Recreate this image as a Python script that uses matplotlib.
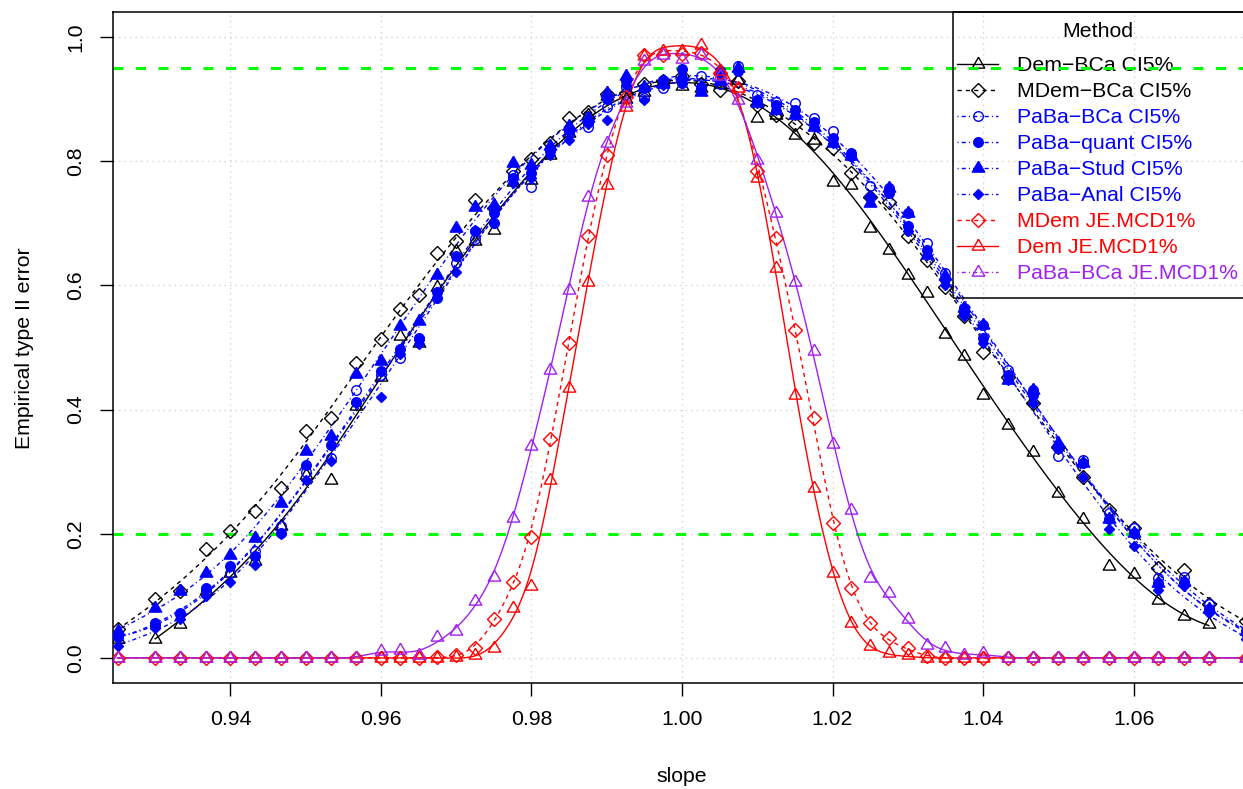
import numpy as np
import matplotlib
matplotlib.use("Agg")
import matplotlib.pyplot as plt
from matplotlib.lines import Line2D
from matplotlib.patches import Rectangle

plt.rcParams['font.family'] = ['Liberation Sans', 'DejaVu Sans']
plt.rcParams['lines.scale_dashes'] = False

# ---------------- data ----------------
slope = [0.925, 0.93, 0.9333, 0.9367, 0.94, 0.9433, 0.9467, 0.95, 0.9533, 0.9567,
         0.96, 0.9625, 0.965, 0.9675, 0.97, 0.9725, 0.975, 0.9775, 0.98, 0.9825,
         0.985, 0.9875, 0.99, 0.9925, 0.995, 0.9975, 1.0, 1.0025, 1.005, 1.0075,
         1.01, 1.0125, 1.015, 1.0175, 1.02, 1.0225, 1.025, 1.0275, 1.03, 1.0325,
         1.035, 1.0375, 1.04, 1.0433, 1.0467, 1.05, 1.0533, 1.0567, 1.06, 1.0633,
         1.0667, 1.07, 1.075]

dem_bca = [0.03, 0.031, 0.054, 0.107, 0.137, 0.156, 0.212, 0.295, 0.287, 0.405,
           0.453, 0.518, 0.508, 0.598, 0.655, 0.672, 0.690, 0.767, 0.770, 0.810,
           0.846, 0.875, 0.905, 0.900, 0.912, 0.928, 0.922, 0.918, 0.925, 0.931,
           0.870, 0.875, 0.843, 0.835, 0.767, 0.762, 0.693, 0.657, 0.617, 0.588,
           0.521, 0.487, 0.424, 0.375, 0.332, 0.266, 0.223, 0.148, 0.135, 0.093,
           0.067, 0.054, 0.0]

mdem_bca = [0.046, 0.095, 0.107, 0.176, 0.204, 0.236, 0.274, 0.365, 0.386, 0.475,
            0.513, 0.562, 0.585, 0.652, 0.671, 0.738, 0.725, 0.785, 0.804, 0.830,
            0.870, 0.880, 0.908, 0.910, 0.925, 0.930, 0.937, 0.925, 0.915, 0.930,
            0.890, 0.875, 0.860, 0.829, 0.821, 0.781, 0.743, 0.735, 0.679, 0.641,
            0.598, 0.550, 0.492, 0.453, 0.411, 0.340, 0.292, 0.239, 0.209, 0.145,
            0.142, 0.086, 0.060]

paba_bca = [0.035, 0.051, 0.070, 0.107, 0.137, 0.172, 0.212, 0.300, 0.322, 0.432,
            0.455, 0.483, 0.515, 0.580, 0.636, 0.674, 0.700, 0.778, 0.759, 0.816,
            0.845, 0.856, 0.888, 0.920, 0.902, 0.918, 0.926, 0.937, 0.925, 0.953,
            0.907, 0.896, 0.894, 0.870, 0.848, 0.808, 0.760, 0.757, 0.717, 0.668,
            0.620, 0.564, 0.537, 0.464, 0.432, 0.325, 0.319, 0.233, 0.209, 0.129,
            0.131, 0.086, 0.043]

paba_quant = [0.033, 0.056, 0.072, 0.113, 0.148, 0.164, 0.201, 0.311, 0.343, 0.413,
              0.462, 0.497, 0.513, 0.590, 0.647, 0.687, 0.717, 0.773, 0.781, 0.820,
              0.851, 0.864, 0.900, 0.930, 0.918, 0.931, 0.948, 0.920, 0.940, 0.945,
              0.899, 0.891, 0.883, 0.864, 0.837, 0.813, 0.743, 0.749, 0.695, 0.657,
              0.610, 0.556, 0.515, 0.456, 0.424, 0.338, 0.314, 0.223, 0.201, 0.121,
              0.123, 0.078, 0.040]

paba_stud = [0.043, 0.080, 0.107, 0.137, 0.166, 0.193, 0.250, 0.333, 0.357, 0.458,
             0.478, 0.534, 0.542, 0.617, 0.692, 0.727, 0.730, 0.797, 0.794, 0.824,
             0.857, 0.870, 0.910, 0.937, 0.920, 0.925, 0.937, 0.912, 0.930, 0.950,
             0.894, 0.883, 0.875, 0.856, 0.829, 0.808, 0.733, 0.757, 0.717, 0.649,
             0.615, 0.564, 0.537, 0.448, 0.432, 0.346, 0.314, 0.223, 0.201, 0.121,
             0.123, 0.078, 0.043]

paba_anal = [0.019, 0.048, 0.062, 0.099, 0.123, 0.150, 0.200, 0.287, 0.317, 0.410,
             0.421, 0.490, 0.505, 0.580, 0.621, 0.690, 0.700, 0.765, 0.773, 0.810,
             0.835, 0.860, 0.867, 0.923, 0.899, 0.923, 0.926, 0.920, 0.948, 0.945,
             0.894, 0.883, 0.875, 0.856, 0.829, 0.808, 0.743, 0.749, 0.687, 0.649,
             0.600, 0.550, 0.507, 0.448, 0.411, 0.338, 0.292, 0.207, 0.180, 0.110,
             0.115, 0.072, 0.030]

mdem_je = [0, 0, 0, 0, 0, 0, 0, 0, 0, 0,
           0, 0, 0, 0.002, 0.005, 0.016, 0.063, 0.122, 0.195, 0.353,
           0.507, 0.679, 0.810, 0.904, 0.971, 0.971, 0.973, 0.974, 0.942, 0.915,
           0.784, 0.676, 0.528, 0.386, 0.218, 0.113, 0.056, 0.032, 0.016, 0.003,
           0, 0, 0, 0, 0, 0, 0, 0, 0, 0,
           0, 0, 0]

dem_je = [0, 0, 0, 0, 0, 0, 0, 0, 0, 0,
          0, 0, 0, 0, 0.002, 0.004, 0.016, 0.080, 0.115, 0.287,
          0.435, 0.606, 0.762, 0.888, 0.970, 0.977, 0.978, 0.988, 0.945, 0.918,
          0.773, 0.628, 0.424, 0.274, 0.137, 0.056, 0.019, 0.008, 0.004, 0,
          0, 0, 0, 0, 0, 0, 0, 0, 0, 0,
          0, 0, 0]

paba_bca_je = [0, 0, 0, 0, 0, 0, 0, 0, 0, 0,
               0.011, 0.013, 0.004, 0.034, 0.043, 0.091, 0.131, 0.225, 0.341, 0.463,
               0.593, 0.743, 0.829, 0.894, 0.961, 0.971, 0.965, 0.971, 0.937, 0.899,
               0.802, 0.717, 0.606, 0.494, 0.345, 0.239, 0.129, 0.105, 0.062, 0.021,
               0.016, 0.004, 0.008, 0, 0, 0, 0, 0, 0, 0,
               0, 0, 0]

labels = ["Dem\u2212BCa CI5%", "MDem\u2212BCa CI5%", "PaBa\u2212BCa CI5%",
          "PaBa\u2212quant CI5%", "PaBa\u2212Stud CI5%", "PaBa\u2212Anal CI5%",
          "MDem JE.MCD1%", "Dem JE.MCD1%", "PaBa\u2212BCa JE.MCD1%"]
x_ticks = [0.94, 0.96, 0.98, 1.00, 1.02, 1.04, 1.06]
y_ticks = [0.0, 0.2, 0.4, 0.6, 0.8, 1.0]
ref_levels = [0.95, 0.2]

# ---------------- styles ----------------
BLUE, RED, PURPLE = '#0000FF', '#FF0000', '#A020F0'
tri = [(0, 1.555), (1.347, -0.778), (-1.347, -0.778), (0, 1.555)]
SOLID = '-'
DASH = (0, (3.0, 3.0))
DOTDASH = (0, (0.75, 2.25, 3.0, 2.25))
FS = 15.3

series = [
    # data, color, marker, ms, filled, linestyle, bandwidth, line range
    (dem_bca, 'black', tri, 10.4, False, SOLID, 0.0095, (0.93, 1.07)),
    (mdem_bca, 'black', 'D', 6.7, False, DASH, 0.0095, None),
    (paba_bca, BLUE, 'o', 6.9, False, DOTDASH, 0.0095, None),
    (paba_quant, BLUE, 'o', 6.9, True, DOTDASH, 0.0095, None),
    (paba_stud, BLUE, tri, 10.4, True, DOTDASH, 0.0095, None),
    (paba_anal, BLUE, 'D', 4.8, True, DOTDASH, 0.0095, None),
    (mdem_je, RED, 'D', 6.7, False, DASH, 0.003, None),
    (dem_je, RED, tri, 10.4, False, SOLID, 0.003, None),
    (paba_bca_je, PURPLE, tri, 10.4, False, SOLID, 0.003, None),
]
legend_ls = [SOLID, DASH, DOTDASH, DOTDASH, DOTDASH, DOTDASH, DASH, SOLID, DOTDASH]


def local_quadratic(x, y, xs, h):
    x = np.asarray(x, float)
    y = np.asarray(y, float)
    out = np.empty(len(xs))
    for i, x0 in enumerate(xs):
        d = x - x0
        w = np.exp(-0.5 * (d / h) ** 2)
        A = np.vstack([np.ones_like(d), d, d * d]).T
        Aw = A * w[:, None]
        coef = np.linalg.solve(Aw.T @ A + 1e-12 * np.eye(3), Aw.T @ y)
        out[i] = coef[0]
    return out


W, H = 1243, 789
fig = plt.figure(figsize=(W / 100, H / 100), dpi=100)
L, R, T, B = 113, 1251, 12, 683
ax = fig.add_axes([L / W, 1 - B / H, (R - L) / W, (B - T) / H])
ax.set_xlim(0.9244, 1.0756)
ax.set_ylim(-0.0405, 1.0405)

ax.grid(True, color='#D3D3D3', linestyle=(0, (1, 3)), linewidth=1.0, zorder=0)
ax.set_axisbelow(True)

for lvl in ref_levels:
    ax.axhline(lvl, color='#00FF00', linewidth=2.2, linestyle=(0, (7.2, 9.0)), zorder=1.5)

xarr = np.asarray(slope)
handles = []
for (vals, col, mk, ms, filled, ls, h, rng), lls in zip(series, legend_ls):
    yarr = np.asarray(vals, float)
    lo, hi = (xarr.min(), xarr.max()) if rng is None else rng
    sel = (xarr >= lo - 1e-9) & (xarr <= hi + 1e-9)
    xs = np.linspace(lo, hi, 500)
    ys = local_quadratic(xarr[sel], yarr[sel], xs, h)
    ax.plot(xs, ys, color=col, linestyle=ls, linewidth=1.0, zorder=2)
    fc = col if filled else 'none'
    ax.plot(xarr, yarr, linestyle='none', marker=mk, markersize=ms,
            markerfacecolor=fc, markeredgecolor=col, markeredgewidth=1.0, zorder=3)
    handles.append(Line2D([0], [0], color=col, linestyle=lls, linewidth=1.0,
                          marker=mk, markersize=ms, markerfacecolor=fc,
                          markeredgecolor=col, markeredgewidth=1.0))

for s in ax.spines.values():
    s.set_linewidth(1.1)

ax.set_xticks(x_ticks)
ax.set_xticklabels([f"{v:.2f}" for v in x_ticks])
ax.set_yticks(y_ticks)
ax.set_yticklabels([f"{v:.1f}" for v in y_ticks], rotation=90, va='center')
ax.tick_params(axis='both', direction='out', length=9.6, width=1.0, labelsize=FS)
ax.tick_params(axis='x', pad=10.0)
ax.tick_params(axis='y', pad=10.3)

fig.text(682 / W, 1 - 776 / H, 'slope', ha='center', va='center', fontsize=FS)
fig.text(25 / W, 1 - 348 / H, 'Empirical type II error', ha='center', va='center',
         rotation=90, fontsize=FS)

colors_txt = ['black', 'black', BLUE, BLUE, BLUE, BLUE, RED, RED, PURPLE]
leg = ax.legend(handles, labels, loc='upper left',
                bbox_to_anchor=(957 / W, 1 - 22.3 / H), bbox_transform=fig.transFigure,
                title='Method', fontsize=FS, title_fontsize=FS,
                handlelength=1.93, handletextpad=0.9, labelspacing=0.33,
                borderpad=0.0, borderaxespad=0.0, frameon=False,
                labelcolor=colors_txt)
leg._legend_box.sep = 10.6
leg.set_zorder(1.4)

frame = Rectangle((952.7 / W, 1 - 297.7 / H), (1255 - 952.7) / W, (297.7 - 12.3) / H,
                  transform=fig.transFigure, facecolor='none', edgecolor='black',
                  linewidth=1.1, zorder=1.4)
fig.patches.append(frame)

fig.savefig('out.png', dpi=100)
